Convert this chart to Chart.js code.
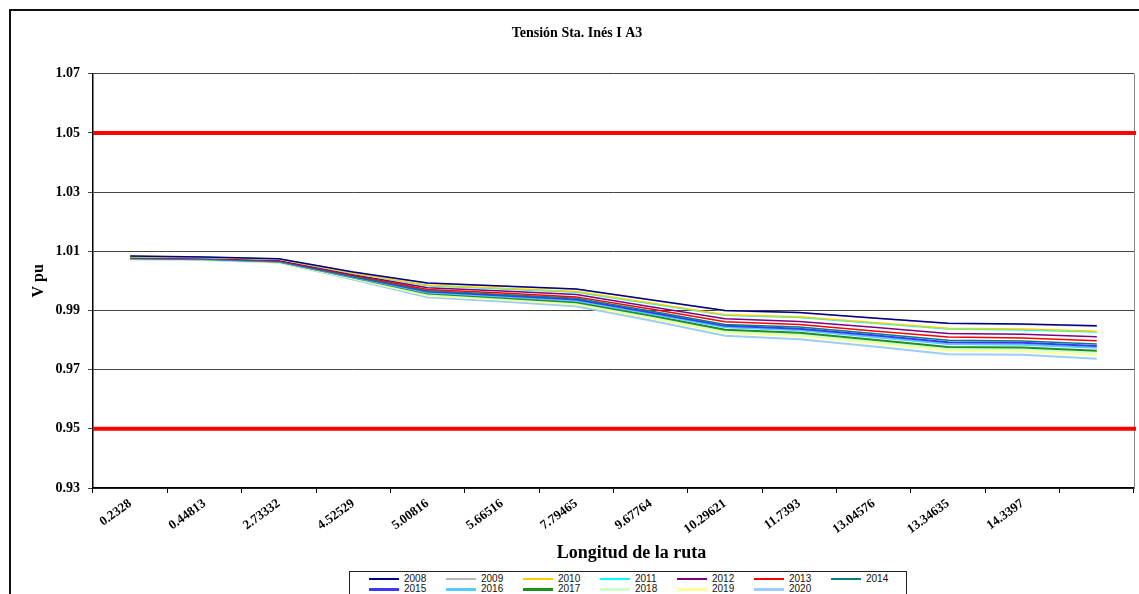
<!DOCTYPE html>
<html>
<head>
<meta charset="utf-8">
<script src="https://cdn.jsdelivr.net/npm/chart.js@4.4.0/dist/chart.umd.min.js"></script>
<style>
  html, body { margin: 0; padding: 0; background: #fff; overflow: hidden; }
  #frame { position: absolute; left: 9px; top: 9px; width: 1200px; height: 700px; border: 2px solid #111; }
  #wrap { position: absolute; left: 0; top: 0; width: 1139px; height: 594px; }
  #legend { position: absolute; left: 349px; top: 571px; width: 556px; height: 40px; border: 1px solid #222;
            background: #fff; font-family: 'Liberation Sans', Arial, sans-serif; font-size: 10px; color: #111; }
  #legend .item { position: absolute; height: 10px; line-height: 10px; }
  #legend .sw { position: absolute; left: 0; width: 30px; }
  #legend .tx { position: absolute; left: 35px; top: 0; }
</style>
</head>
<body>
<div id="frame"></div>
<div id="wrap"><canvas id="myChart"></canvas></div>
<div id="legend"></div>
<script>
// categorias (longitud de la ruta)
var categories = ['0.2328', '0.44813', '2.73332', '4.52529', '5.00816', '5.66516', '7.79465',
                  '9.67764', '10.29621', '11.7393', '13.04576', '13.34635', '14.3397', ''];

var v2008 = [1.0084, 1.0081, 1.0075, 1.0030, 0.9993, 0.9983, 0.9973, 0.9936, 0.9900, 0.9893, 0.9875, 0.9857, 0.9854, 0.9848];
var v2009 = [1.0083, 1.0080, 1.0074, 1.0029, 0.9992, 0.9982, 0.9972, 0.9935, 0.9899, 0.9892, 0.9874, 0.9856, 0.9853, 0.9847];
var v2010 = [1.0082, 1.0079, 1.0073, 1.0026, 0.9985, 0.9975, 0.9964, 0.9925, 0.9886, 0.9879, 0.9859, 0.9840, 0.9837, 0.9830];
var v2011 = [1.0082, 1.0079, 1.0073, 1.0025, 0.9984, 0.9973, 0.9962, 0.9923, 0.9884, 0.9876, 0.9857, 0.9837, 0.9834, 0.9827];
var v2012 = [1.0080, 1.0078, 1.0071, 1.0022, 0.9977, 0.9966, 0.9954, 0.9913, 0.9872, 0.9863, 0.9843, 0.9822, 0.9820, 0.9811];
var v2013 = [1.0079, 1.0077, 1.0069, 1.0019, 0.9971, 0.9959, 0.9946, 0.9905, 0.9862, 0.9853, 0.9831, 0.9810, 0.9807, 0.9798];
var v2014 = [1.0078, 1.0076, 1.0068, 1.0016, 0.9967, 0.9954, 0.9941, 0.9898, 0.9853, 0.9844, 0.9822, 0.9799, 0.9797, 0.9787];
var v2015 = [1.0077, 1.0075, 1.0067, 1.0015, 0.9964, 0.9951, 0.9937, 0.9893, 0.9848, 0.9838, 0.9816, 0.9793, 0.9791, 0.9780];
var v2016 = [1.0077, 1.0074, 1.0066, 1.0013, 0.9961, 0.9947, 0.9933, 0.9889, 0.9843, 0.9833, 0.9810, 0.9787, 0.9784, 0.9774];
var v2017 = [1.0076, 1.0073, 1.0065, 1.0011, 0.9957, 0.9943, 0.9928, 0.9883, 0.9835, 0.9825, 0.9801, 0.9777, 0.9775, 0.9764];
var v2018 = [1.0075, 1.0073, 1.0064, 1.0010, 0.9954, 0.9940, 0.9925, 0.9879, 0.9830, 0.9819, 0.9795, 0.9771, 0.9769, 0.9757];
var v2019 = [1.0074, 1.0072, 1.0063, 1.0008, 0.9950, 0.9936, 0.9920, 0.9874, 0.9824, 0.9813, 0.9789, 0.9764, 0.9761, 0.9749];
var v2020 = [1.0073, 1.0071, 1.0062, 1.0005, 0.9945, 0.9930, 0.9914, 0.9866, 0.9815, 0.9803, 0.9778, 0.9752, 0.9750, 0.9737];

// limites de tension (lineas rojas)
var limits = [0.95, 1.05];
var yTicks = [0.93, 0.95, 0.97, 0.99, 1.01, 1.03, 1.05, 1.07];

var years = ['2008', '2009', '2010', '2011', '2012', '2013', '2014', '2015', '2016', '2017', '2018', '2019', '2020'];
var values = [v2008, v2009, v2010, v2011, v2012, v2013, v2014, v2015, v2016, v2017, v2018, v2019, v2020];
var colors = ['#000080', '#b8b8b8', '#ffcc00', '#00ffff', '#800080', '#ff0000', '#008080',
              '#3a3aff', '#55ccff', '#1f8f1f', '#ccffcc', '#ffff99', '#99ccff'];
var widths = [1.5, 1.5, 1.5, 1.5, 1.5, 1.5, 1.5, 2, 2, 2, 2, 2, 2];

var datasets = years.map(function (y, i) {
    return {
        label: y,
        data: values[i],
        borderColor: colors[i],
        backgroundColor: colors[i],
        borderWidth: widths[i],
        pointRadius: 0,
        tension: 0,
        fill: false
    };
});

var serif = "'Liberation Serif', 'Times New Roman', serif";

var limitLines = {
    id: 'limitLines',
    afterDatasetsDraw: function (chart) {
        var c = chart.ctx, a = chart.chartArea, y = chart.scales.y;
        c.save();
        // borde derecho del area
        c.strokeStyle = '#888';
        c.lineWidth = 1;
        c.beginPath();
        c.moveTo(a.right + 0.5, a.top);
        c.lineTo(a.right + 0.5, a.bottom);
        c.stroke();
        c.strokeStyle = '#ff0000';
        c.lineWidth = 4;
        limits.forEach(function (v) {
            var py = y.getPixelForValue(v);
            c.beginPath();
            c.moveTo(a.left, py);
            c.lineTo(a.right + 2, py);
            c.stroke();
        });
        c.restore();
    }
};

var ctx = document.getElementById('myChart').getContext('2d');
var myChart = new Chart(ctx, {
    type: 'line',
    data: { labels: categories, datasets: datasets },
    options: {
        responsive: true,
        maintainAspectRatio: false,
        animation: false,
        layout: { padding: { left: 20, right: 5, top: 13, bottom: 24 } },
        plugins: {
            legend: { display: false },
            tooltip: { enabled: false },
            title: {
                display: true,
                text: 'Tensión Sta. Inés I A3',
                color: '#000',
                font: { family: serif, size: 14, weight: 'bold' },
                padding: { top: 12, bottom: 32 }
            }
        },
        scales: {
            x: {
                offset: true,
                grid: { offset: true, drawOnChartArea: false, drawTicks: true, tickLength: 5, color: '#000' },
                border: { color: '#000', width: 1.5 },
                ticks: {
                    autoSkip: false, maxRotation: 36, minRotation: 36, padding: 3,
                    color: '#000', font: { family: serif, size: 13, weight: 'bold' }
                },
                title: {
                    display: true,
                    // desplazado un poco a la derecha como en el original
                    text: '\u00a0\u00a0\u00a0\u00a0\u00a0\u00a0\u00a0\u00a0Longitud de la ruta',
                    color: '#000',
                    font: { family: serif, size: 18, weight: 'bold' },
                    padding: { top: 0, bottom: 6 }
                },
                afterFit: function (s) { s.height = 82; }
            },
            y: {
                min: 0.93, max: 1.07,
                afterBuildTicks: function (s) { s.ticks = yTicks.map(function (v) { return { value: v }; }); },
                grid: { color: '#444', lineWidth: 1, tickLength: 5 },
                border: { color: '#000', width: 1.5 },
                ticks: {
                    padding: 8, color: '#000',
                    font: { family: serif, size: 14, weight: 'bold' },
                    callback: function (v) { return Number(v).toFixed(2); }
                },
                title: {
                    display: true, text: 'V pu', color: '#000',
                    font: { family: serif, size: 16, weight: 'bold' },
                    padding: { top: 9, bottom: 0 }
                },
                afterFit: function (s) { s.width = 73; }
            }
        }
    },
    plugins: [limitLines]
});

// leyenda en dos filas de 7
var legend = document.getElementById('legend');
myChart.data.datasets.forEach(function (ds, i) {
    var item = document.createElement('div');
    item.className = 'item';
    item.style.left = (19 + (i % 7) * 77) + 'px';
    item.style.top = (2 + Math.floor(i / 7) * 10) + 'px';
    var sw = document.createElement('div');
    sw.className = 'sw';
    var h = ds.borderWidth > 1.5 ? 3 : 2;
    sw.style.height = h + 'px';
    sw.style.top = (5 - Math.floor(h / 2)) + 'px';
    sw.style.background = ds.borderColor;
    var tx = document.createElement('span');
    tx.className = 'tx';
    tx.textContent = ds.label;
    item.appendChild(sw);
    item.appendChild(tx);
    legend.appendChild(item);
});
</script>
</body>
</html>
